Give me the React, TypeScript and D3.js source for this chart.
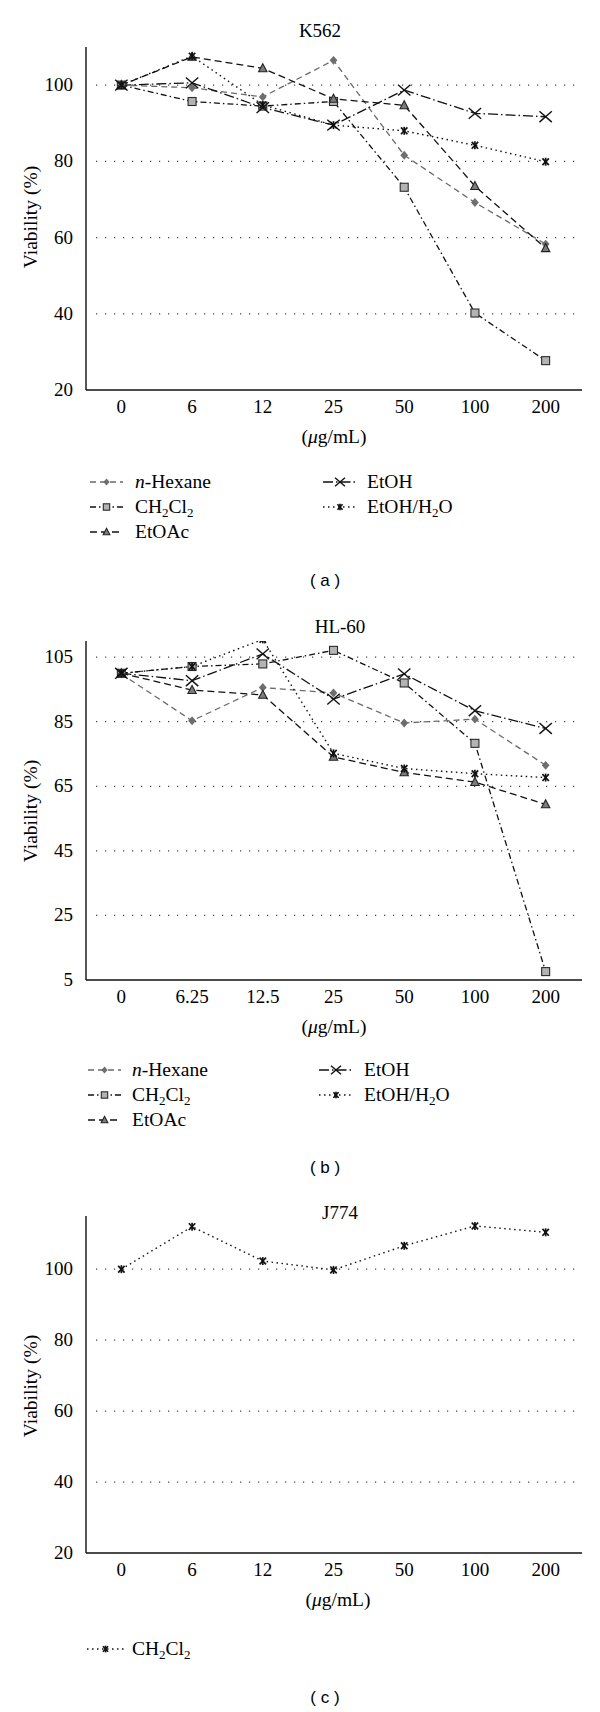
import React from "react";
import * as d3 from "d3";

// ---------- data ----------
const concK562 = ["0", "6", "12", "25", "50", "100", "200"];
const concHL60 = ["0", "6.25", "12.5", "25", "50", "100", "200"];
const concJ774 = ["0", "6", "12", "25", "50", "100", "200"];

const k562Hexane = [100, 99.3, 96.9, 106.5, 81.6, 69.2, 58.3];
const k562CH2Cl2 = [100, 95.7, 94.5, 95.7, 73.2, 40.2, 27.7];
const k562EtOAc = [100, 107.4, 104.4, 96.4, 94.7, 73.5, 57.2];
const k562EtOH = [100, 100.6, 94.1, 89.5, 98.7, 92.6, 91.7];
const k562EtOHH2O = [100, 107.6, 94.8, 89.5, 88.0, 84.2, 79.9];

const hl60Hexane = [99.8, 85.3, 95.6, 93.9, 84.6, 85.8, 71.5];
const hl60CH2Cl2 = [100, 102.1, 102.9, 107.1, 97.0, 78.3, 7.6];
const hl60EtOAc = [100, 94.8, 93.3, 74.1, 69.3, 66.3, 59.4];
const hl60EtOH = [100, 97.7, 106.0, 92.0, 99.8, 88.4, 82.9];
const hl60EtOHH2O = [100, 102.1, 110.5, 75.2, 70.5, 68.9, 67.7];

const j774CH2Cl2 = [100, 112.0, 102.3, 99.8, 106.6, 112.2, 110.4];

const ticksK562 = [20, 40, 60, 80, 100];
const ticksHL60 = [5, 25, 45, 65, 85, 105];
const ticksJ774 = [20, 40, 60, 80, 100];

// ---------- styles ----------
const SERIF = "'Liberation Serif', 'DejaVu Serif', serif";
const SANS = "'Liberation Sans', Arial, sans-serif";

type MarkerKind = "diamond" | "square" | "triangle" | "x" | "star";
type SeriesStyle = { kind: MarkerKind; stroke: string; dash: string; width: number };

const STYLE: Record<string, SeriesStyle> = {
  hexane: { kind: "diamond", stroke: "#6a6a6a", dash: "6,4", width: 1.3 },
  ch2cl2: { kind: "square", stroke: "#111", dash: "6,3,1.5,3", width: 1.3 },
  etoac: { kind: "triangle", stroke: "#111", dash: "7,4", width: 1.3 },
  etoh: { kind: "x", stroke: "#111", dash: "10,3,1.5,3", width: 1.3 },
  etohh2o: { kind: "star", stroke: "#111", dash: "1.5,3.5", width: 1.4 },
};

function Marker({ kind, cx, cy, s = 1 }: { kind: MarkerKind; cx: number; cy: number; s?: number }) {
  if (kind === "diamond") {
    const w = 3.9 * s, h = 4.4 * s;
    return <path d={`M${cx},${cy - h}L${cx + w},${cy}L${cx},${cy + h}L${cx - w},${cy}Z`} fill="#6e6e6e" />;
  }
  if (kind === "square") {
    const a = 4 * s;
    return <rect x={cx - a} y={cy - a} width={2 * a} height={2 * a} fill="#b3b3b3" stroke="#2a2a2a" strokeWidth={1.1} />;
  }
  if (kind === "triangle") {
    const w = 4.2 * s;
    return <path d={`M${cx},${cy - 4.6 * s}L${cx + w},${cy + 3.4 * s}L${cx - w},${cy + 3.4 * s}Z`} fill="#7c7c7c" stroke="#222" strokeWidth={1.1} />;
  }
  if (kind === "x") {
    const w = 6.2 * s, h = 5.4 * s;
    return (
      <g stroke="#111" strokeWidth={1.4}>
        <line x1={cx - w} y1={cy - h} x2={cx + w} y2={cy + h} />
        <line x1={cx - w} y1={cy + h} x2={cx + w} y2={cy - h} />
      </g>
    );
  }
  const w = 3.2 * s, h = 3.4 * s;
  return (
    <g stroke="#111" strokeWidth={1.7}>
      <line x1={cx - w} y1={cy - h} x2={cx + w} y2={cy + h} />
      <line x1={cx - w} y1={cy + h} x2={cx + w} y2={cy - h} />
      <line x1={cx} y1={cy - h - 0.6} x2={cx} y2={cy + h + 0.6} />
    </g>
  );
}

function LegendLabel({ id, x, y }: { id: string; x: number; y: number }) {
  const fs = 19.5;
  if (id === "hexane")
    return (
      <text x={x} y={y} fontFamily={SERIF} fontSize={fs}>
        <tspan fontStyle="italic">n</tspan>-Hexane
      </text>
    );
  if (id === "ch2cl2")
    return (
      <text x={x} y={y} fontFamily={SERIF} fontSize={fs}>
        CH<tspan dy={4} fontSize={13}>2</tspan>
        <tspan dy={-4}>Cl</tspan>
        <tspan dy={4} fontSize={13}>2</tspan>
      </text>
    );
  if (id === "etoac")
    return (
      <text x={x} y={y} fontFamily={SERIF} fontSize={fs}>
        EtOAc
      </text>
    );
  if (id === "etoh")
    return (
      <text x={x} y={y} fontFamily={SERIF} fontSize={fs}>
        EtOH
      </text>
    );
  return (
    <text x={x} y={y} fontFamily={SERIF} fontSize={fs}>
      EtOH/H<tspan dy={4} fontSize={13}>2</tspan>
      <tspan dy={-4}>O</tspan>
    </text>
  );
}

type Series = { id: string; values: number[] };
type LegendItem = { id: string; styleId: string; x0: number; x1: number; tx: number; y: number };

type PanelProps = {
  name: string;
  titleX: number;
  titleY: number;
  cats: string[];
  domain: [number, number];
  yTop: number;
  yBottom: number;
  ticks: number[];
  series: Series[];
  tickLabelY: number;
  xLabelX: number;
  xLabelY: number;
  yLabelY: number;
  legend: LegendItem[];
  panelLabel: string;
  panelLabelY: number;
};

const X0 = 86;
const X1 = 581;

function Panel(p: PanelProps) {
  const x = d3.scalePoint<string>().domain(p.cats).range([X0, X1]).padding(0.5);
  const y = d3.scaleLinear().domain(p.domain).range([p.yBottom, p.yTop]);
  const clipId = "clip-" + p.name.replace(/[^a-zA-Z0-9]/g, "");
  return (
    <g>
      <defs>
        <clipPath id={clipId}>
          <rect x={X0} y={p.yTop} width={X1 - X0 + 10} height={p.yBottom - p.yTop + 10} />
        </clipPath>
      </defs>
      <text x={p.titleX} y={p.titleY} textAnchor="middle" fontFamily={SERIF} fontSize={19}>
        {p.name}
      </text>
      {p.ticks.slice(1).map((t) => (
        <line key={"g" + t} x1={X0 + 10} x2={X1} y1={y(t)} y2={y(t)} stroke="#444" strokeWidth={1.2} strokeDasharray="1.2,7.8" />
      ))}
      {p.ticks.map((t) => (
        <text key={"t" + t} x={73} y={y(t) + 6} textAnchor="end" fontFamily={SERIF} fontSize={19}>
          {t}
        </text>
      ))}
      <line x1={X0} x2={X0} y1={p.yTop} y2={p.yBottom} stroke="#111" strokeWidth={1.4} />
      <line x1={X0} x2={X1 + 1} y1={p.yBottom} y2={p.yBottom} stroke="#111" strokeWidth={1.4} />
      {p.cats.map((c) => (
        <text key={"c" + c} x={x(c)} y={p.tickLabelY} textAnchor="middle" fontFamily={SERIF} fontSize={19}>
          {c}
        </text>
      ))}
      <text x={p.xLabelX} y={p.xLabelY} textAnchor="middle" fontFamily={SERIF} fontSize={19.5}>
        (<tspan fontStyle="italic">μ</tspan>g/mL)
      </text>
      <text
        transform={`translate(37,${p.yLabelY}) rotate(-90)`}
        textAnchor="middle"
        fontFamily={SERIF}
        fontSize={19.5}
      >
        Viability (%)
      </text>
      <g clipPath={`url(#${clipId})`}>
        {p.series.map((s) => {
          const st = STYLE[s.id];
          const line = d3
            .line<number>()
            .x((_, i) => x(p.cats[i]) as number)
            .y((v) => y(v));
          return (
            <path key={"l" + s.id} d={line(s.values) || ""} fill="none" stroke={st.stroke} strokeWidth={st.width} strokeDasharray={st.dash} />
          );
        })}
        {p.series.map((s) =>
          s.values.map((v, i) => (
            <Marker key={s.id + i} kind={STYLE[s.id].kind} cx={x(p.cats[i]) as number} cy={y(v)} />
          ))
        )}
      </g>
      {p.legend.map((l) => {
        const st = STYLE[l.styleId];
        return (
          <g key={"lg" + l.id + l.y}>
            <line x1={l.x0} x2={l.x1} y1={l.y - 6} y2={l.y - 6} stroke={st.stroke} strokeWidth={st.width} strokeDasharray={st.dash} />
            <Marker kind={st.kind} cx={(l.x0 + l.x1) / 2} cy={l.y - 6} s={0.8} />
            <LegendLabel id={l.id} x={l.tx} y={l.y} />
          </g>
        );
      })}
      <text x={325} y={p.panelLabelY} textAnchor="middle" fontFamily={SANS} fontSize={17}>
        ( {p.panelLabel} )
      </text>
    </g>
  );
}

function fullLegend(y1: number, y2: number, y3: number, lx0: number, ltx: number, rx0: number, rtx: number): LegendItem[] {
  return [
    { id: "hexane", styleId: "hexane", x0: lx0, x1: lx0 + 33, tx: ltx, y: y1 },
    { id: "ch2cl2", styleId: "ch2cl2", x0: lx0, x1: lx0 + 33, tx: ltx, y: y2 },
    { id: "etoac", styleId: "etoac", x0: lx0, x1: lx0 + 33, tx: ltx, y: y3 },
    { id: "etoh", styleId: "etoh", x0: rx0, x1: rx0 + 34, tx: rtx, y: y1 },
    { id: "etohh2o", styleId: "etohh2o", x0: rx0, x1: rx0 + 34, tx: rtx, y: y2 },
  ];
}

export default function App() {
  return (
    <svg width={600} height={1712} style={{ display: "block", position: "absolute", left: 0, top: 0, background: "#fff" }}>
      <Panel
        name="K562"
        titleX={320}
        titleY={37}
        cats={concK562}
        domain={[20, 110]}
        yTop={47}
        yBottom={390}
        ticks={ticksK562}
        series={[
          { id: "hexane", values: k562Hexane },
          { id: "ch2cl2", values: k562CH2Cl2 },
          { id: "etoac", values: k562EtOAc },
          { id: "etoh", values: k562EtOH },
          { id: "etohh2o", values: k562EtOHH2O },
        ]}
        tickLabelY={413}
        xLabelX={334}
        xLabelY={443}
        yLabelY={217}
        legend={fullLegend(488, 513, 538, 90, 135, 323, 367)}
        panelLabel="a"
        panelLabelY={586}
      />
      <Panel
        name="HL-60"
        titleX={340}
        titleY={633}
        cats={concHL60}
        domain={[5, 110]}
        yTop={641}
        yBottom={980}
        ticks={ticksHL60}
        series={[
          { id: "hexane", values: hl60Hexane },
          { id: "ch2cl2", values: hl60CH2Cl2 },
          { id: "etoac", values: hl60EtOAc },
          { id: "etoh", values: hl60EtOH },
          { id: "etohh2o", values: hl60EtOHH2O },
        ]}
        tickLabelY={1003}
        xLabelX={334}
        xLabelY={1033}
        yLabelY={811}
        legend={fullLegend(1076, 1101, 1126, 88, 132, 319, 364)}
        panelLabel="b"
        panelLabelY={1173}
      />
      <Panel
        name="J774"
        titleX={340}
        titleY={1219}
        cats={concJ774}
        domain={[20, 115]}
        yTop={1216}
        yBottom={1553}
        ticks={ticksJ774}
        series={[{ id: "etohh2o", values: j774CH2Cl2 }]}
        tickLabelY={1576}
        xLabelX={338}
        xLabelY={1606}
        yLabelY={1386}
        legend={[{ id: "ch2cl2", styleId: "etohh2o", x0: 87, x1: 124, tx: 132, y: 1655 }]}
        panelLabel="c"
        panelLabelY={1703}
      />
    </svg>
  );
}
